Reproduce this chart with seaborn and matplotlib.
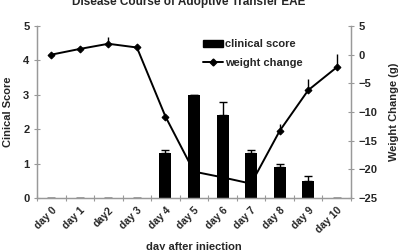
import matplotlib

matplotlib.use("Agg")
import matplotlib.pyplot as plt
import numpy as np
import seaborn as sns
from matplotlib.lines import Line2D
from matplotlib.patches import Patch

# data
days = ["day 0", "day 1", "day2", "day 3", "day 4", "day 5",
        "day 6", "day 7", "day 8", "day 9", "day 10"]
clinical_score = [0, 0, 0, 0, 1.3, 3.0, 2.4, 1.3, 0.9, 0.5, 0]
clinical_err = [0, 0, 0, 0, 0.1, 0.0, 0.38, 0.1, 0.08, 0.15, 0]
weight_change = [0.0, 1.0, 1.9, 1.25, -10.8, -20.4, -21.4, -22.5, -13.3, -6.2, -2.2]
weight_err = [0, 0, 1.1, 0, 0, 0, 0, 0, 1.2, 1.9, 2.3]

sns.set_theme(style="white")
plt.rcParams["font.family"] = ["Liberation Sans", "DejaVu Sans"]
plt.rcParams["font.weight"] = "bold"

fig = plt.figure(figsize=(4.05, 2.5), dpi=100)
ax = fig.add_axes([0.0914, 0.208, 0.7753, 0.688])

sns.barplot(x=days, y=clinical_score, color="black", width=0.42,
            saturation=1, errorbar=None, linewidth=0, ax=ax)
pos = np.arange(len(days))
ax.errorbar(pos, clinical_score, yerr=[np.zeros(len(days)), clinical_err],
            fmt="none", ecolor="black", elinewidth=1, capsize=3, capthick=1)

ax.set_ylim(0, 5)
ax.set_xlim(-0.5, len(days) - 0.5)
ax.set_yticks(range(6))
ax.set_ylabel("Cinical Score", fontsize=8, fontweight="bold", labelpad=7)
ax.set_xlabel("day after injection", fontsize=8, fontweight="bold", labelpad=5)
ax.set_xticks(pos)
ax.set_xticklabels(days, rotation=45, ha="right", rotation_mode="anchor",
                   fontsize=7.5, fontweight="bold")
ax.tick_params(axis="x", length=0, pad=5)
ax.set_xticks(np.arange(-0.5, len(days)), minor=True)
ax.tick_params(axis="x", which="minor", direction="inout", length=5,
               color="#999999", width=0.8, bottom=True)
ax.tick_params(axis="y", direction="inout", length=5, color="#999999",
               width=0.8, labelsize=8, left=True, pad=3)

ax2 = ax.twinx()
sns.lineplot(x=pos, y=weight_change, color="black", marker="D",
             markersize=3.5, markeredgecolor="black", linewidth=1.4, ax=ax2)
ax2.errorbar(pos, weight_change, yerr=[np.zeros(len(days)), weight_err],
             fmt="none", ecolor="black", elinewidth=1, capsize=0)
ax2.set_ylim(-25, 5)
ax2.set_yticks(range(-25, 6, 5))
ax2.set_ylabel("Weight Change (g)", fontsize=8, fontweight="bold", labelpad=8)
ax2.tick_params(axis="y", direction="inout", length=5, color="#999999",
                width=0.8, labelsize=8, right=True, pad=3)

for a in (ax, ax2):
    for side in ("left", "right", "bottom"):
        a.spines[side].set_color("#999999")
        a.spines[side].set_linewidth(0.9)
    a.spines["top"].set_visible(False)

handles = [Patch(facecolor="black", edgecolor="black"),
           Line2D([], [], color="black", marker="D", markersize=3.5, linewidth=1.4)]
ax2.legend(handles, ["clinical score", "weight change"], loc="upper left",
           bbox_to_anchor=(0.515, 0.95), frameon=False, fontsize=8,
           handlelength=1.8, handleheight=0.6, handletextpad=0.15,
           labelspacing=0.8, borderaxespad=0)

fig.text(0.465, 0.99, "Disease Course of Adoptive Transfer EAE", ha="center",
         va="center", fontsize=8.5, fontweight="bold")

fig.savefig("out.png", dpi=100)
